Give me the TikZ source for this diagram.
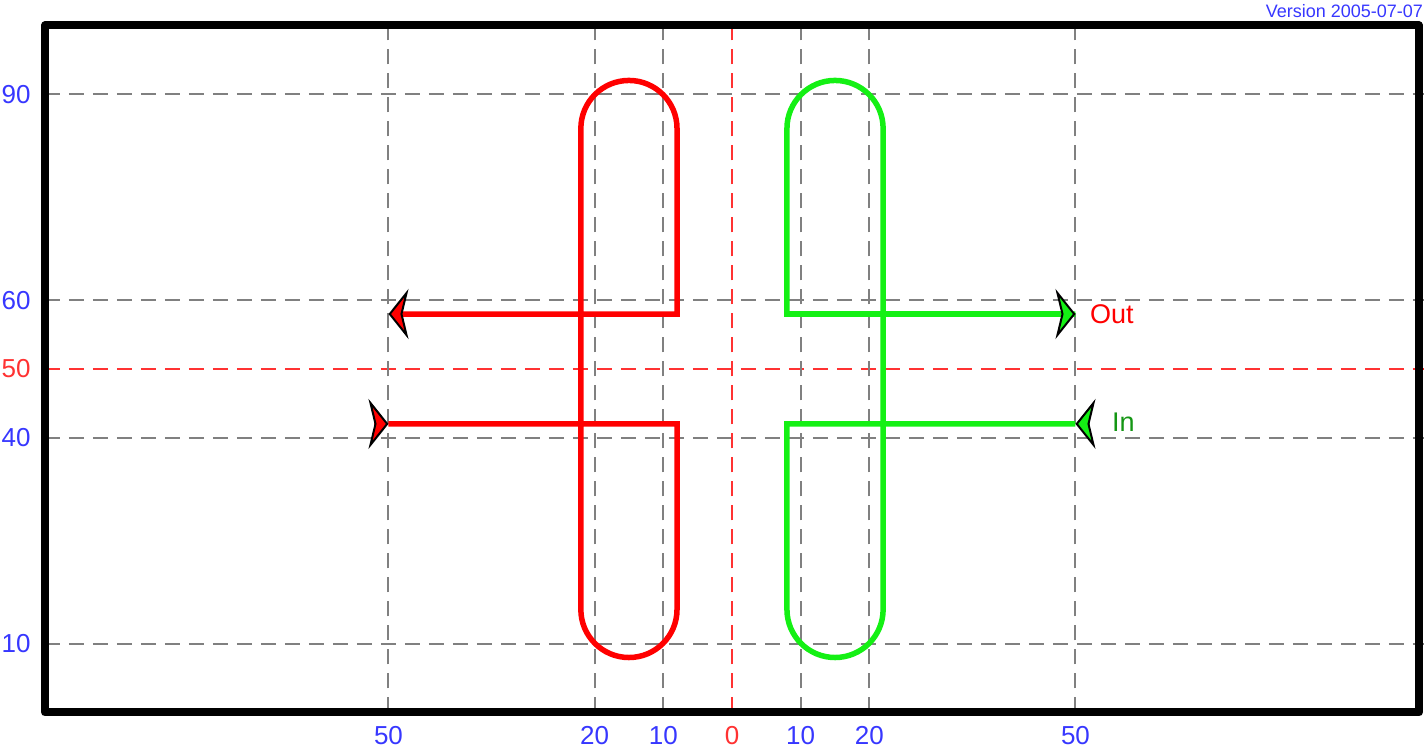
\documentclass[tikz,border=0pt]{standalone}
\usepackage{fontspec}
\setmainfont{Liberation Sans}
\usepackage{xcolor}
\usetikzlibrary{arrows.meta}

\definecolor{gridgray}{RGB}{128,128,128}
\definecolor{gridred}{RGB}{255,50,50}
\definecolor{labelblue}{RGB}{55,55,255}
\definecolor{loopred}{RGB}{255,0,0}
\definecolor{loopgreen}{RGB}{20,240,20}
\definecolor{textgreen}{RGB}{20,150,20}

\begin{document}
\begin{tikzpicture}[
    x=6.87pt, y=6.87pt,
    every node/.style={font=\fontsize{26}{30}\selectfont, inner sep=0pt},
    gridline/.style={draw=gridgray, line width=2pt, dash pattern=on 15pt off 9pt},
    midline/.style={draw=gridred, line width=2pt, dash pattern=on 15pt off 9pt},
    redloop/.style={draw=loopred, line width=5.5pt, line join=miter},
    greenloop/.style={draw=loopgreen, line width=5.5pt, line join=miter},
    redtip/.style={-{Stealth[length=20pt, width=50pt, inset=6pt, color=black, fill=loopred, line width=2pt]}},
    greentip/.style={-{Stealth[length=20pt, width=50pt, inset=6pt, color=black, fill=loopgreen, line width=2pt]}}
]
\useasboundingbox (-106.55,-5.17) rectangle (100.73,103.71);

% Grid
\draw[gridline] (-100,10) -- (100.73,10);
\draw[gridline] (-100,40) -- (100.73,40);
\draw[gridline] (-100,60) -- (100.73,60);
\draw[gridline] (-100,90) -- (100.73,90);
\draw[midline] (-100,50) -- (100.73,50);
\draw[gridline] (-50,0) -- (-50,100);
\draw[gridline] (-20,0) -- (-20,100);
\draw[gridline] (-10,0) -- (-10,100);
\draw[gridline] (10,0) -- (10,100);
\draw[gridline] (20,0) -- (20,100);
\draw[gridline] (50,0) -- (50,100);
\draw[midline] (0,0) -- (0,100);

% Frame
\draw[line width=8pt, line join=round] (-100,0) rectangle (100,100);

% Axis labels
\node[text=labelblue] (y90) at (-104.2,90) {90};
\node[text=labelblue] (y60) at (-104.2,60) {60};
\node[text=gridred] (y50) at (-104.2,50) {50};
\node[text=labelblue] (y40) at (-104.2,40) {40};
\node[text=labelblue] (y10) at (-104.2,10) {10};
\node[text=labelblue] (xl50) at (-50,-3.4) {50};
\node[text=labelblue] (xl20) at (-20,-3.4) {20};
\node[text=labelblue] (xl10) at (-10,-3.4) {10};
\node[text=gridred] (x0) at (0,-3.4) {0};
\node[text=labelblue] (xr10) at (10,-3.4) {10};
\node[text=labelblue] (xr20) at (20,-3.4) {20};
\node[text=labelblue] (xr50) at (50,-3.4) {50};

\node[anchor=east, text=labelblue, font=\fontsize{18}{20}\selectfont] (version) at (100.6,102.1) {Version 2005-07-07};

% Ports
\coordinate (rin) at (-50,42);
\coordinate (rinback) at (-52.04,42);
\coordinate (rout) at (-50,58);
\coordinate (gin) at (50,42);
\coordinate (ginback) at (52.04,42);
\coordinate (gout) at (50,58);

% Red loop
\draw[redloop, redtip] (rin) -- (-8,42) -- (-8,15)
    arc[start angle=0, end angle=-180, radius=7] -- (-22,85)
    arc[start angle=180, end angle=0, radius=7] -- (-8,58) -- (rout);
\draw[redloop, redtip] (rinback) -- (rin);

% Green loop
\draw[greenloop] (gin) -- (8,42) -- (8,15)
    arc[start angle=180, end angle=360, radius=7] -- (22,85)
    arc[start angle=0, end angle=180, radius=7] -- (8,58) -- (gout);
\draw[greenloop, greentip] (8,58) -- (gout);
\draw[greenloop, greentip] (ginback) -- (gin);

% Port labels
\node[anchor=west, text=loopred, font=\fontsize{27}{30}\selectfont] (outlabel) at (52.1,58) {Out};
\node[anchor=west, text=textgreen, font=\fontsize{27}{30}\selectfont] (inlabel) at (55.3,42.3) {In};

\end{tikzpicture}
\end{document}
